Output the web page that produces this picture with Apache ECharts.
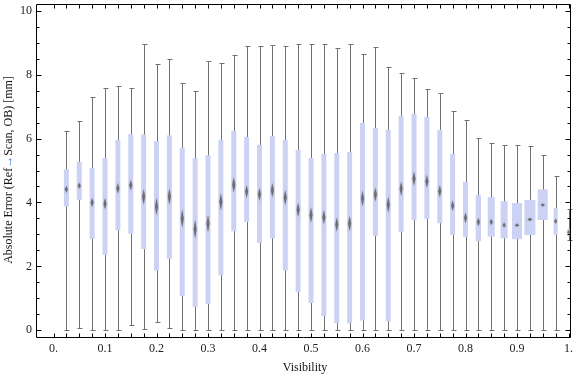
<!DOCTYPE html>
<html><head><meta charset="utf-8">
<script src="https://cdn.jsdelivr.net/npm/echarts@6/dist/echarts.min.js"></script>
<style>html,body{margin:0;padding:0;background:#fff}#c{width:576px;height:377px}</style>
</head><body><div id="c"></div>
<script>
// ---- data ----
const visibility = [0.025,0.05,0.075,0.1,0.125,0.15,0.175,0.2,0.225,0.25,0.275,0.3,0.325,0.35,0.375,0.4,0.425,0.45,0.475,0.5,0.525,0.55,0.575,0.6,0.625,0.65,0.675,0.7,0.725,0.75,0.775,0.8,0.825,0.85,0.875,0.9,0.925,0.95,0.975,1.0];
const whiskerLow = [0,0.08,0.02,0.02,0,0.15,0.05,0.27,0.08,0.02,0,0,0,0,0,0,0,0,0,0,0,0,0,0,0,0,0,0.02,0.02,0,0,0,0,0,0,0,0,0,0.02,2.81];
const quartile1 = [3.87,4.08,2.86,2.36,3.13,3.02,2.54,1.86,2.23,1.07,0.72,0.82,1.72,3.10,3.39,2.73,2.88,1.86,1.19,0.85,0.44,0.22,0.22,0.31,2.95,0.28,3.08,3.45,3.48,3.35,2.98,2.92,2.79,2.93,2.88,2.85,2.98,3.45,2.98,2.95];
const medians = [4.41,4.52,4.00,3.96,4.44,4.54,4.18,3.87,4.18,3.50,3.16,3.34,4.02,4.55,4.34,4.25,4.38,4.15,3.77,3.61,3.54,3.31,3.34,4.12,4.25,3.93,4.43,4.74,4.66,4.35,3.90,3.52,3.39,3.39,3.29,3.29,3.47,3.92,3.41,3.07];
const quartile3 = [5.04,5.27,5.08,5.39,5.96,6.14,6.13,5.92,6.10,5.71,5.39,5.48,5.96,6.24,6.05,5.80,6.08,5.96,5.64,5.39,5.52,5.55,5.58,6.49,6.33,6.27,6.71,6.77,6.68,6.27,5.52,4.64,4.23,4.17,4.04,3.98,4.08,4.41,3.82,3.18];
const whiskerHigh = [6.23,6.54,7.29,7.57,7.64,7.57,8.95,8.34,8.48,7.74,7.48,8.42,8.36,8.61,8.89,8.89,8.92,8.89,8.95,8.95,8.95,8.83,8.95,8.64,8.86,8.23,8.05,7.88,7.54,7.42,6.86,6.57,6.01,5.85,5.79,5.79,5.76,5.48,4.83,3.81];
const medianNotch = [0.105,0.094,0.14,0.17,0.16,0.16,0.24,0.27,0.25,0.28,0.28,0.27,0.27,0.24,0.20,0.20,0.22,0.24,0.22,0.24,0.22,0.22,0.24,0.25,0.22,0.25,0.22,0.22,0.20,0.19,0.16,0.16,0.125,0.094,0.08,0.05,0.05,0.05,0.08,0.05];
const xTickValues = [0,0.1,0.2,0.3,0.4,0.5,0.6,0.7,0.8,0.9,1.0];
const xTickLabels = ['0.','0.1','0.2','0.3','0.4','0.5','0.6','0.7','0.8','0.9','1.'];
const yTickValues = [0,2,4,6,8,10];
const yTickLabels = ['0','2','4','6','8','10'];

// ---- styles ----
const boxPx = [5,5,5,5,5,5,5,5,5,5,5,5,5,5,5,5,5,5,5,5,5,5,5,5,5,5,5,5,5,5,5,5,5.3,7,7,10,11,10,4,2];
const FONT = 'Liberation Serif';
const minorX = []; for (let k = 0; k <= 40; k++) minorX.push(+(k * 0.025).toFixed(3));
const minorY = []; for (let k = 0; k <= 20; k++) minorY.push(k * 0.5);

const data = visibility.map((v, i) => [v, whiskerLow[i], quartile1[i], medians[i], quartile3[i], whiskerHigh[i], medianNotch[i], i]);

const X_MIN = -0.034, X_MAX = 1.004, Y_MIN = -0.21, Y_MAX = 10.21;
const axisCommon = { type: 'value', splitLine: { show: false }, axisLine: { show: false }, axisTick: { show: false } };

const chart = echarts.init(document.getElementById('c'), null, { renderer: 'canvas' });
chart.setOption({
  animation: false,
  backgroundColor: '#fff',
  grid: { left: 36, right: 3, top: 4, bottom: 40 },
  xAxis: [
    Object.assign({}, axisCommon, { position: 'bottom', min: X_MIN, max: X_MAX,
      axisLabel: { show: true, customValues: xTickValues, margin: 6, color: '#222', fontFamily: FONT, fontSize: 12,
        formatter: v => xTickLabels[Math.round(v * 10)] } })
  ],
  yAxis: [
    Object.assign({}, axisCommon, { position: 'left', min: Y_MIN, max: Y_MAX,
      axisLabel: { show: true, customValues: yTickValues, margin: 4, color: '#222', fontFamily: FONT, fontSize: 12,
        formatter: v => yTickLabels[Math.round(v / 2)] } })
  ],
  graphic: [
    { type: 'text', x: 9, y: 170, rotation: Math.PI / 2,
      style: { text: '{a|Absolute Error (Ref}{b|→}{a|Scan, OB) [mm]}', align: 'center', verticalAlign: 'middle',
        rich: { a: { fontFamily: FONT, fontSize: 12, fill: '#111' }, b: { fontFamily: FONT, fontSize: 12, fill: '#2f6fd0' } } } },
    { type: 'text', x: 305, y: 368,
      style: { text: 'Visibility', align: 'center', verticalAlign: 'middle', fontFamily: FONT, fontSize: 12, fill: '#111' } }
  ],
  series: [{
    type: 'custom',
    xAxisIndex: 0, yAxisIndex: 0,
    data: data,
    renderItem: function (params, api) {
      const x = api.value(0);
      const lo = api.coord([x, api.value(1)]);
      const q1 = api.coord([x, api.value(2)]);
      const md = api.coord([x, api.value(3)]);
      const q3 = api.coord([x, api.value(4)]);
      const hi = api.coord([x, api.value(5)]);
      const nt = api.value(6);
      const nUp = api.coord([x, api.value(3) + nt])[1];
      const nDn = api.coord([x, api.value(3) - nt])[1];
      const w = boxPx[api.value(7)];
      const px = lo[0];
      const cx = Math.round(px) + 0.5;
      const hw = Math.max(1.5, w * 0.22);
      const yHi = Math.round(hi[1]) + 0.5, yLo = Math.round(lo[1]) + 0.5;
      const stroke = { stroke: '#707070', lineWidth: 1 };
      return {
        type: 'group',
        children: [
          { type: 'line', shape: { x1: cx, y1: yLo, x2: cx, y2: yHi }, style: stroke },
          { type: 'line', shape: { x1: cx - 2, y1: yHi, x2: cx + 3, y2: yHi }, style: stroke },
          { type: 'line', shape: { x1: cx - 2, y1: yLo, x2: cx + 3, y2: yLo }, style: stroke },
          { type: 'rect', shape: { x: px - w / 2, y: q3[1], width: w, height: q1[1] - q3[1] }, style: { fill: '#ccd2f4' } },
          { type: 'polygon', shape: { points: [[px, nUp], [px + hw, md[1]], [px, nDn], [px - hw, md[1]]] },
            style: { fill: 'rgba(100,100,100,0.85)', shadowBlur: 1.5, shadowColor: 'rgba(100,100,100,0.6)' } }
        ]
      };
    }
  }, {
    // frame with inward ticks, positioned through the axes' scales
    type: 'custom',
    xAxisIndex: 0, yAxisIndex: 0,
    clip: false, silent: true, z: 5,
    data: [[0, 0]],
    renderItem: function (params, api) {
      const cs = params.coordSys;
      const L = Math.round(cs.x) + 0.5, T = Math.round(cs.y) + 0.5;
      const R = Math.round(cs.x + cs.width) - 0.5, B = Math.round(cs.y + cs.height) + 0.5;
      const st = { stroke: '#000', lineWidth: 1 };
      const ch = [{ type: 'rect', shape: { x: L, y: T, width: R - L, height: B - T }, style: { stroke: '#000', lineWidth: 1, fill: null } }];
      minorX.forEach(v => {
        const px = Math.round(api.coord([v, 0])[0]) + 0.5;
        ch.push({ type: 'line', shape: { x1: px, y1: B, x2: px, y2: B - 4 }, style: st });
        ch.push({ type: 'line', shape: { x1: px, y1: T, x2: px, y2: T + 4 }, style: st });
      });
      minorY.forEach(v => {
        const py = Math.round(api.coord([0, v])[1]) + 0.5;
        const len = (v % 2 === 0) ? 5 : 3;
        ch.push({ type: 'line', shape: { x1: L, y1: py, x2: L + len, y2: py }, style: st });
        ch.push({ type: 'line', shape: { x1: R, y1: py, x2: R - len, y2: py }, style: st });
      });
      return { type: 'group', children: ch };
    }
  }]
});
</script>
</body></html>
